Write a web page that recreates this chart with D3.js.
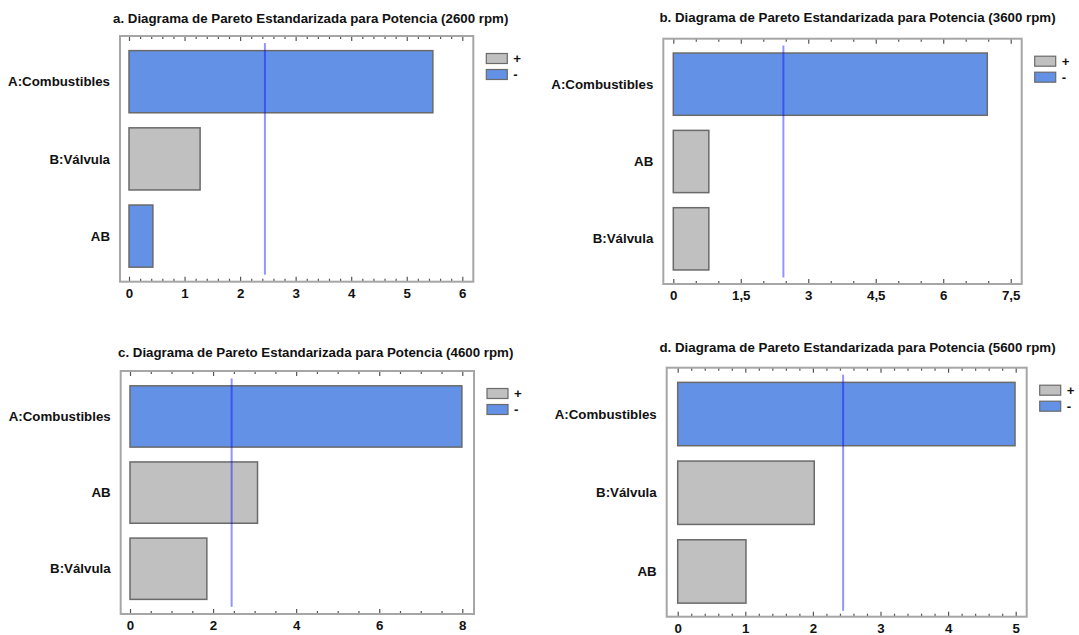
<!DOCTYPE html>
<html>
<head>
<meta charset="utf-8">
<script src="https://cdn.jsdelivr.net/npm/d3@7"></script>
<style>
  body { margin: 0; background: #fff; }
  svg { display: block; }
  text { font-family: "Liberation Sans", Arial, sans-serif; font-weight: bold; fill: #111; }
</style>
</head>
<body>
<svg id="chart" width="1079" height="635"></svg>
<script>
// Standardized Pareto charts of engine power effects at four speeds
const titles = [
  "a. Diagrama de Pareto Estandarizada para Potencia (2600 rpm)",
  "b. Diagrama de Pareto Estandarizada para Potencia (3600 rpm)",
  "c. Diagrama de Pareto Estandarizada para Potencia (4600 rpm)",
  "d. Diagrama de Pareto Estandarizada para Potencia (5600 rpm)"
];

// Effects (top to bottom), standardized values and effect sign
const categoriesA = ["A:Combustibles", "B:Válvula", "AB"];
const valuesA = [5.47, 1.28, 0.43];
const signsA = ["-", "+", "-"];

const categoriesB = ["A:Combustibles", "AB", "B:Válvula"];
const valuesB = [6.98, 0.79, 0.79];
const signsB = ["-", "+", "+"];

const categoriesC = ["A:Combustibles", "AB", "B:Válvula"];
const valuesC = [7.99, 3.07, 1.85];
const signsC = ["-", "+", "+"];

const categoriesD = ["A:Combustibles", "B:Válvula", "AB"];
const valuesD = [4.99, 2.02, 1.01];
const signsD = ["-", "+", "+"];

// Critical t value drawn as the reference line
const criticalValue = 2.447;

// Axis ticks
const ticksA = [0, 1, 2, 3, 4, 5, 6];
const tickLabelsA = ["0", "1", "2", "3", "4", "5", "6"];
const minorStepA = 0.2;

const ticksB = [0, 1.5, 3, 4.5, 6, 7.5];
const tickLabelsB = ["0", "1,5", "3", "4,5", "6", "7,5"];
const minorStepB = 0.5;

const ticksC = [0, 2, 4, 6, 8];
const tickLabelsC = ["0", "2", "4", "6", "8"];
const minorStepC = 0.5;

const ticksD = [0, 1, 2, 3, 4, 5];
const tickLabelsD = ["0", "1", "2", "3", "4", "5"];
const minorStepD = 0.2;

const legendLabels = ["+", "-"];

const signColor = { "+": "#c0c0c0", "-": "#6391e6" };

const panels = [
  { title: titles[0], cats: categoriesA, vals: valuesA, signs: signsA, ticks: ticksA, labels: tickLabelsA, minor: minorStepA,
    frame: [120, 36, 473.3, 281.7], xr: [129, 462.3], band: [43.1, 274.7], tx: 113, ty: 23 },
  { title: titles[1], cats: categoriesB, vals: valuesB, signs: signsB, ticks: ticksB, labels: tickLabelsB, minor: minorStepB,
    frame: [663.3, 38.7, 1021.7, 284], xr: [673.3, 1010.7], band: [45.5, 277.5], tx: 659.5, ty: 21.5 },
  { title: titles[2], cats: categoriesC, vals: valuesC, signs: signsC, ticks: ticksC, labels: tickLabelsC, minor: minorStepC,
    frame: [120.7, 371, 474, 614], xr: [130, 462.3], band: [378.4, 606.8], tx: 118, ty: 356.5 },
  { title: titles[3], cats: categoriesD, vals: valuesD, signs: signsD, ticks: ticksD, labels: tickLabelsD, minor: minorStepD,
    frame: [666.7, 367.7, 1026.7, 616.7], xr: [677.7, 1015.7], band: [374.7, 610.8], tx: 659.5, ty: 351.5 }
];

const svg = d3.select("#chart");

panels.forEach(p => {
  const g = svg.append("g");
  const [fl, ft, fr, fb] = p.frame;
  const maxTick = p.ticks[p.ticks.length - 1];

  const x = d3.scaleLinear().domain([0, maxTick]).range(p.xr);
  const y = d3.scaleBand().domain(p.cats).range(p.band).paddingInner(0.195).paddingOuter(0.0975);

  // title
  g.append("text")
    .attr("x", p.tx).attr("y", p.ty)
    .style("font-size", "13.3px")
    .text(p.title);

  // bars
  g.selectAll("rect.bar")
    .data(p.cats.map((c, i) => ({ c, v: p.vals[i], s: p.signs[i] })))
    .join("rect")
    .attr("class", "bar")
    .attr("x", x(0))
    .attr("y", d => y(d.c))
    .attr("width", d => x(d.v) - x(0))
    .attr("height", y.bandwidth())
    .attr("fill", d => signColor[d.s])
    .attr("stroke", "#6a6a6a")
    .attr("stroke-width", 1.5);

  // reference line at the critical value
  g.append("line")
    .attr("x1", x(criticalValue)).attr("x2", x(criticalValue))
    .attr("y1", p.band[0]).attr("y2", p.band[1])
    .attr("stroke", "#0000ff")
    .attr("stroke-opacity", 0.42)
    .attr("stroke-width", 2);

  // minor ticks (bottom and top, pointing inward)
  const minorVals = d3.range(0, maxTick + 1e-9, p.minor).filter(v => !p.ticks.some(t => Math.abs(t - v) < 1e-6));
  const minorBottom = d3.axisBottom(x).tickValues(minorVals).tickSize(-3).tickFormat("");
  const minorTop = d3.axisTop(x).tickValues(minorVals).tickSize(-3).tickFormat("");
  const majorBottom = d3.axisBottom(x).tickValues(p.ticks).tickSize(-5).tickPadding(7)
    .tickFormat((d, i) => p.labels[i]);
  const majorTop = d3.axisTop(x).tickValues(p.ticks).tickSize(-5).tickFormat("");

  [[minorBottom, fb], [majorBottom, fb], [minorTop, ft], [majorTop, ft]].forEach(([ax, yy]) => {
    const a = g.append("g").attr("transform", `translate(0,${yy})`).call(ax);
    a.select(".domain").remove();
    a.selectAll(".tick line").attr("stroke", "#555").attr("stroke-width", 1.2);
    a.selectAll(".tick text")
      .style("font-size", "13.3px")
      .style("font-family", "'Liberation Sans', Arial, sans-serif")
      .style("font-weight", "bold")
      .attr("fill", "#111");
  });

  // frame
  g.append("rect")
    .attr("x", fl).attr("y", ft)
    .attr("width", fr - fl).attr("height", fb - ft)
    .attr("fill", "none")
    .attr("stroke", "#a6a6a6")
    .attr("stroke-width", 2);

  // category labels
  g.selectAll("text.cat")
    .data(p.cats)
    .join("text")
    .attr("class", "cat")
    .attr("x", fl - 10)
    .attr("y", d => y(d) + y.bandwidth() / 2)
    .attr("dy", "0.35em")
    .attr("text-anchor", "end")
    .style("font-size", "13.3px")
    .text(d => d);

  // legend
  const lg = g.append("g").attr("transform", `translate(${fr + 13},${ft + 17.5})`);
  legendLabels.forEach((s, i) => {
    lg.append("rect")
      .attr("x", 0).attr("y", i * 16)
      .attr("width", 21).attr("height", 10)
      .attr("fill", signColor[s])
      .attr("stroke", "#6a6a6a")
      .attr("stroke-width", 1.2);
    lg.append("text")
      .attr("x", 27).attr("y", i * 16 + 5)
      .attr("dy", "0.35em")
      .style("font-size", "13.3px")
      .text(s);
  });
});
</script>
</body>
</html>
